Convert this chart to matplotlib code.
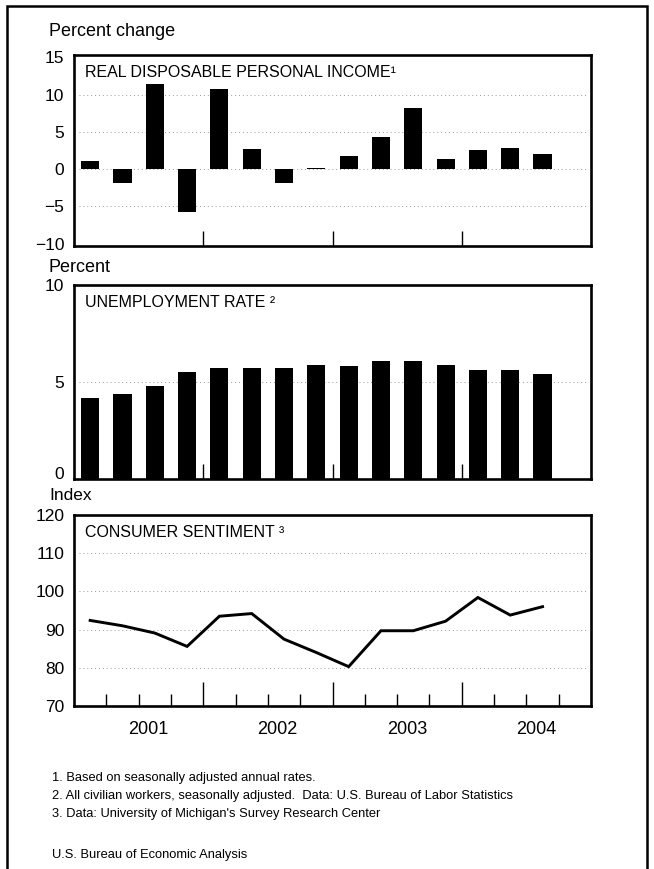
import matplotlib
matplotlib.use('Agg')
import matplotlib.pyplot as plt
import matplotlib.transforms as mtransforms
from matplotlib.patches import Rectangle
import numpy as np

plt.rcParams['font.family'] = ['Liberation Sans', 'DejaVu Sans']

# quarterly data, 2001Q1 - 2004Q3
income_change = [1.1, -1.9, 11.4, -5.7, 10.8, 2.7, -1.8, 0.2, 1.8, 4.3, 8.2, 1.4, 2.5, 2.8, 2.0]
unemployment = [4.2, 4.4, 4.8, 5.5, 5.7, 5.7, 5.7, 5.9, 5.8, 6.1, 6.1, 5.9, 5.6, 5.6, 5.4]
sentiment = [92.4, 91.0, 89.1, 85.6, 93.5, 94.2, 87.5, 84.0, 80.3, 89.7, 89.7, 92.2, 98.4, 93.8, 96.0]
years = ['2001', '2002', '2003', '2004']

titles = ['REAL DISPOSABLE PERSONAL INCOME\u00b9', 'UNEMPLOYMENT RATE \u00b2', 'CONSUMER SENTIMENT \u00b3']
units = ['Percent change', 'Percent', 'Index']
footnotes = ['1. Based on seasonally adjusted annual rates.',
             '2. All civilian workers, seasonally adjusted.  Data: U.S. Bureau of Labor Statistics',
             '3. Data: University of Michigan\'s Survey Research Center']
source = 'U.S. Bureau of Economic Analysis'

W, H = 654, 869
fig = plt.figure(figsize=(W / 100, H / 100), dpi=100)


def rect(left, top, right, bottom):
    return [left / W, 1 - bottom / H, (right - left) / W, (bottom - top) / H]


def fy(y):
    return 1 - y / H


# outer frame
fig.patches.append(Rectangle((7 / W, -0.02), 640 / W, 1.02 - 6 / H, transform=fig.transFigure,
                             fill=False, lw=1.8, ec='black'))

ax1 = fig.add_axes(rect(74, 55, 591, 246))
ax2 = fig.add_axes(rect(74, 285, 591, 479))
ax3 = fig.add_axes(rect(74, 515, 591, 706))

x = np.arange(len(income_change)) + 0.5

ax1.bar(x, income_change, width=0.56, color='black')
ax2.bar(x, unemployment, width=0.56, color='black')
ax3.plot(x, sentiment, color='black', lw=2.1, solid_joinstyle='miter')

ax1.set_ylim(-10.3, 15.3)
ax1.set_yticks([-10, -5, 0, 5, 10, 15])
ax1.set_yticklabels(['\u221210', '\u22125', '0', '5', '10', '15'])
ax2.set_ylim(0, 10)
ax2.set_yticks([0, 5, 10])
ax3.set_ylim(70, 120)
ax3.set_yticks([70, 80, 90, 100, 110, 120])

grids = [[-5, 0, 5, 10], [5], [80, 90, 100, 110]]

for ax, title, unit, g in zip([ax1, ax2, ax3], titles, units, grids):
    ax.set_xlim(0, 16)
    for v in g:
        ax.axhline(v, xmin=0.01, xmax=0.99, color='#999999', lw=0.7, ls=(0, (1, 3)), zorder=0)
    for s in ax.spines.values():
        s.set_linewidth(1.9)
    ax.tick_params(axis='y', length=0, pad=7, labelsize=12.5)
    ax.tick_params(axis='x', direction='in', length=11, width=1, labelbottom=False)
    ax.set_xticks([4, 8, 12])
    ax.text(0.021, 0.91, title, transform=ax.transAxes, fontsize=11.5, va='center', ha='left')

# the "0" of the middle panel sits a bit above the frame bottom
lab0 = ax2.get_yticklabels()[0]
lab0.set_transform(lab0.get_transform() + mtransforms.ScaledTranslation(0, 6 / 100, fig.dpi_scale_trans))

ax3.set_xticks([1, 2, 3, 5, 6, 7, 9, 10, 11, 13, 14, 15], minor=True)
ax3.tick_params(axis='x', which='major', length=17)
ax3.tick_params(axis='x', which='minor', direction='in', length=9, width=1)

fig.text(49 / W, fy(32), units[0], fontsize=13, va='center')
fig.text(48 / W, fy(267), units[1], fontsize=13, va='center')
fig.text(49 / W, fy(496), units[2], fontsize=12.5, va='center')

trans = mtransforms.blended_transform_factory(ax3.transData, fig.transFigure)
for i, yr in enumerate(years):
    ax3.text(4 * i + 2.3, fy(730), yr, transform=trans, fontsize=13, ha='center', va='center')

foot_family = ['Liberation Sans Narrow', 'Liberation Sans']
for line, yy in zip(footnotes, [778, 796, 814]):
    fig.text(52 / W, fy(yy), line, fontsize=9.3, va='center', family=foot_family)
fig.text(52 / W, fy(855), source, fontsize=9.3, va='center', family=foot_family)

fig.savefig('out.png', dpi=100)
